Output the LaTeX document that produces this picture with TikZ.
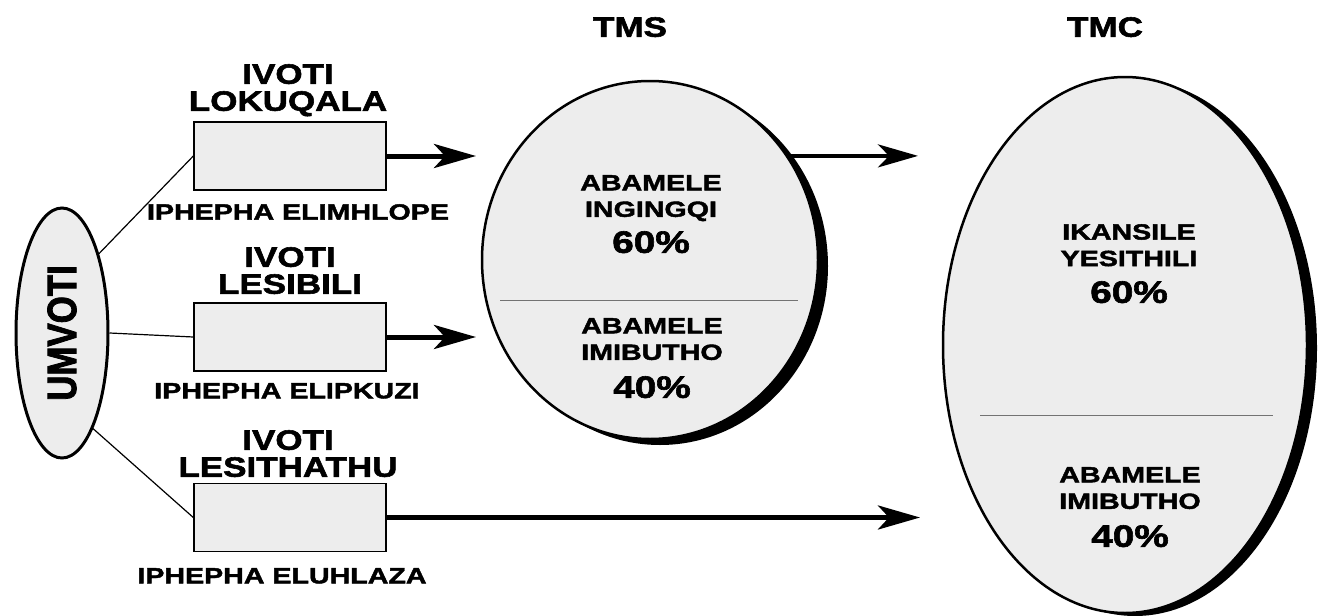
\documentclass[tikz,border=0pt]{standalone}
\usepackage{fontspec}
\setmainfont{Liberation Sans}
\newfontfamily\wf[FakeStretch=1.25,FakeBold=2]{Liberation Sans}
\newfontfamily\xf[FakeStretch=1.3,FakeBold=2]{Liberation Sans}
\newfontfamily\nf[FakeStretch=0.85,FakeBold=2]{Liberation Sans}
\usetikzlibrary{arrows.meta,shapes.geometric,shadows}
\tikzset{
  stip/.style={fill=black!7},
  votebox/.style={draw, line width=1.4pt, stip, minimum width=192pt, minimum height=68pt, inner sep=0pt},
  bigoval/.style={ellipse, draw, line width=2.5pt, stip, inner sep=0pt,
    drop shadow={shadow xshift=10pt, shadow yshift=#1, fill=black, opacity=1}},
  headtxt/.style={font=\wf\bfseries\fontsize{28}{27}\selectfont, align=center, inner sep=0pt, anchor=north},
  subtxt/.style={font=\xf\bfseries\fontsize{22}{26.5}\selectfont, align=center, inner sep=0pt, anchor=north},
  pcttxt/.style={font=\wf\bfseries\fontsize{31}{31}\selectfont, inner sep=0pt, anchor=north},
  link/.style={line width=1.2pt},
  fatarrow/.style={line width=5pt, -{Stealth[length=42pt, width=24pt, inset=11pt]}},
  medarrow/.style={line width=3.5pt, -{Stealth[length=40pt, width=23pt, inset=11pt]}},
  divider/.style={line width=1pt, black!55},
}
\begin{document}
\begin{tikzpicture}[x=1pt, y=-1pt]
\useasboundingbox (0,0) rectangle (1318,616);

% source ellipse
\node[ellipse, draw, line width=3pt, stip, minimum width=92pt, minimum height=250pt, inner sep=0pt] (umvoti) at (62,333)
  {\rotatebox{90}{\nf\bfseries\fontsize{41}{41}\selectfont UMVOTI}};

% ballot boxes
\node[votebox] (box1) at (290,156) {};
\node[votebox] (box2) at (290,337) {};
\node[votebox] (box3) at (290,517.5) {};

\node[headtxt] (l1) at (288,64) {IVOTI\\LOKUQALA};
\node[headtxt] (l2) at (290,247) {IVOTI\\LESIBILI};
\node[headtxt] (l3) at (288,430) {IVOTI\\LESITHATHU};

\node[subtxt] (p1) at (298,204) {IPHEPHA ELIMHLOPE};
\node[subtxt] (p2) at (287,383) {IPHEPHA ELIPKUZI};
\node[subtxt] (p3) at (282,568) {IPHEPHA ELUHLAZA};

% connectors from UMVOTI
\draw[link] (umvoti.65) -- (box1.west);
\draw[link] (umvoti.east) -- (box2.west);
\draw[link] (umvoti.-72) -- (box3.west);

% TMS and TMC
\node[headtxt] (tmslabel) at (630,17) {TMS};
\node[headtxt] (tmclabel) at (1105,17) {TMC};

\node[bigoval=-6pt, minimum width=336pt, minimum height=358pt] (tms) at (650,260) {};
\node[bigoval=-3pt, minimum width=364pt, minimum height=536pt] (tmc) at (1125,345) {};

\draw[divider] (500,300) -- (798,300);
\draw[divider] (980,415) -- (1273,415);

\node[subtxt] (tms1) at (651,175) {ABAMELE\\INGINGQI};
\node[pcttxt] (tms2) at (651,231) {60\%};
\node[subtxt] (tms3) at (652,318) {ABAMELE\\IMIBUTHO};
\node[pcttxt] (tms4) at (652,376) {40\%};

\node[subtxt] (tmc1) at (1129,224) {IKANSILE\\YESITHILI};
\node[pcttxt] (tmc2) at (1129,281) {60\%};
\node[subtxt] (tmc3) at (1130,467) {ABAMELE\\IMIBUTHO};
\node[pcttxt] (tmc4) at (1130,525) {40\%};

% arrows
\coordinate (t1) at (476,156);
\coordinate (t2) at (476,337);
\coordinate (t3) at (920,517.5);
\coordinate (t4) at (918,157);
\draw[fatarrow] (box1.east) -- (t1);
\draw[fatarrow] (box2.east) -- (t2);
\draw[fatarrow] (box3.east) -- (t3);
\draw[medarrow] (tms.37) -- (tms.37 -| t4);
\end{tikzpicture}
\end{document}
